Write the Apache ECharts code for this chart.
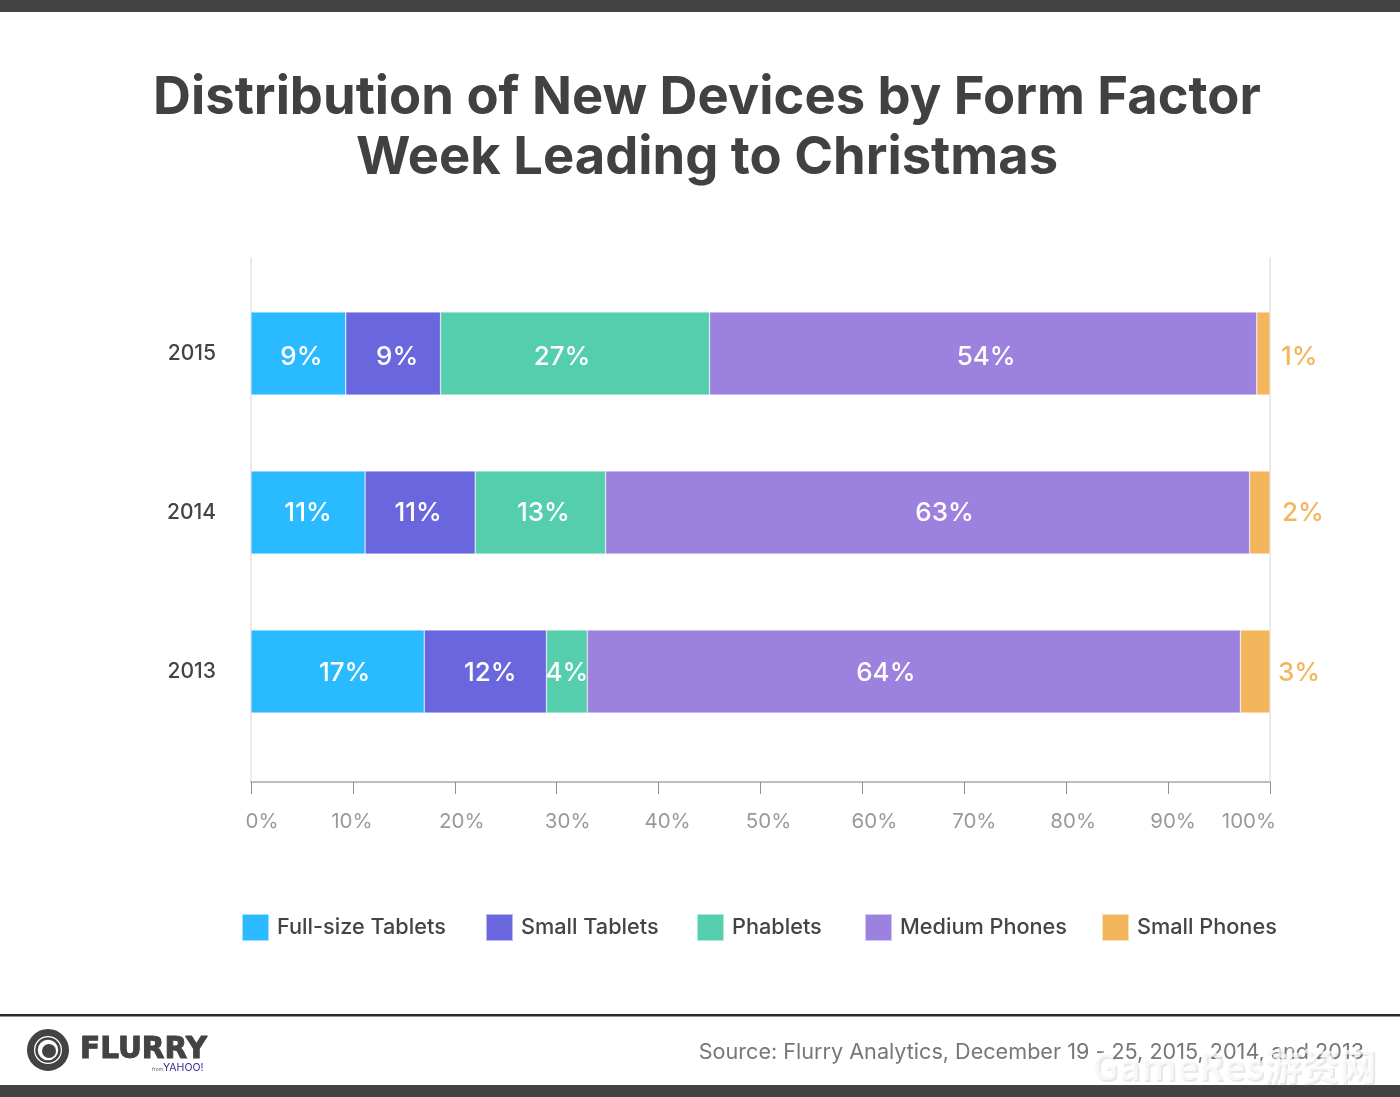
<!DOCTYPE html>
<html>
<head>
<meta charset="utf-8">
<title>Distribution of New Devices by Form Factor</title>
<script src="https://cdn.jsdelivr.net/npm/echarts@6/dist/echarts.min.js"></script>
<style>
  html, body { margin: 0; padding: 0; background: #fff; }
  #chart { width: 1400px; height: 1097px; }
</style>
</head>
<body>
<div id="chart"></div>
<script>
const years = ["2015", "2014", "2013"];
const seriesNames = ["Full-size Tablets", "Small Tablets", "Phablets", "Medium Phones", "Small Phones"];

// widths as drawn (the printed labels are rounded differently)
const fullSizeTablets = [9.3, 11.2, 17.0];
const smallTablets = [9.3, 10.8, 12.0];
const phablets = [26.4, 12.8, 4.0];
const mediumPhones = [53.7, 63.2, 64.1];
const smallPhones = [1.3, 2.0, 2.9];

const fullSizeLabels = ["9%", "11%", "17%"];
const smallTabletLabels = ["9%", "11%", "12%"];
const phabletLabels = ["27%", "13%", "4%"];
const mediumLabels = ["54%", "63%", "64%"];
const smallPhoneLabels = ["1%", "2%", "3%"];

const tickLabels = ["0%", "10%", "20%", "30%", "40%", "50%", "60%", "70%", "80%", "90%", "100%"];

const FONT = "Inter";
const COLORS = ["#2abaff", "#6966de", "#55ceae", "#9c82de", "#f4b65d"];
const LEGEND_LEFT = [241, 485, 696, 864, 1101];

// the reference places its texts off-centre, so nudge them by hand
const TICK_SHIFT = [11, -1, 7, 11, 9, 8, 12, 10, 7, 5, -21];
const LABEL_SHIFT = [
  [3, 4, -13, 3, 0],
  [0, -2, 3, 17, 1],
  [7, 5, 0, -28, -3]
];
const LABEL_DROP = [4, 1, 2];

const seriesValues = [fullSizeTablets, smallTablets, phablets, mediumPhones, smallPhones];
const seriesLabels = [fullSizeLabels, smallTabletLabels, phabletLabels, mediumLabels, smallPhoneLabels];

const tickRich = {};
TICK_SHIFT.forEach((shift, i) => {
  tickRich["t" + i] = {
    color: "#9a9a9a",
    fontFamily: FONT,
    fontSize: 20.5,
    padding: shift >= 0 ? [0, 0, 0, shift * 2] : [0, -shift * 2, 0, 0]
  };
});

function buildSeries() {
  return seriesNames.map((name, s) => ({
    name,
    type: "bar",
    stack: "share",
    xAxisIndex: 0,
    yAxisIndex: 0,
    barWidth: 83,
    itemStyle: {
      color: COLORS[s],
      borderColor: "rgba(255,255,255,0.55)",
      borderWidth: 0.6
    },
    data: seriesValues[s].map((value, y) => ({
      value,
      label: {
        show: true,
        position: s === 4 ? "right" : "inside",
        distance: s === 4 ? 11 : 0,
        formatter: seriesLabels[s][y],
        color: s === 4 ? COLORS[4] : "#ffffff",
        fontFamily: FONT,
        fontSize: 26,
        fontWeight: 500,
        offset: [LABEL_SHIFT[y][s], LABEL_DROP[y]]
      }
    }))
  }));
}

function buildLegends() {
  return seriesNames.map((name, s) => ({
    data: [name],
    left: LEGEND_LEFT[s],
    top: 913,
    padding: 0,
    icon: "rect",
    itemWidth: 27,
    itemHeight: 27,
    itemGap: 0,
    selectedMode: false,
    textStyle: {
      color: "#444444",
      fontFamily: FONT,
      fontSize: 21.7,
      fontWeight: 500,
      padding: [0, 0, 0, 3]
    }
  }));
}

function buildFooter() {
  const dark = "#434343";
  const watermark = "GameRes游资网";
  return [
    { type: "rect", shape: { x: 0, y: 0, width: 1400, height: 12 }, style: { fill: dark } },
    { type: "rect", shape: { x: 0, y: 1085, width: 1400, height: 12 }, style: { fill: dark } },
    { type: "rect", shape: { x: 0, y: 1014, width: 1400, height: 2.5 }, style: { fill: "#2b2b2b" } },
    { type: "circle", shape: { cx: 48, cy: 1050, r: 17.5 }, style: { fill: "none", stroke: dark, lineWidth: 7 } },
    { type: "circle", shape: { cx: 48, cy: 1050, r: 11.5 }, style: { fill: "none", stroke: dark, lineWidth: 2.5 } },
    { type: "circle", shape: { cx: 49, cy: 1051, r: 7 }, style: { fill: dark } },
    {
      type: "text",
      style: {
        x: 80, y: 1050, text: "FLURRY", fill: dark, stroke: dark, lineWidth: 1, textVerticalAlign: "middle",
        font: "bold 29.5px 'DejaVu Sans'"
      }
    },
    {
      type: "text",
      style: { x: 152, y: 1069, text: "from", fill: "#666666", textVerticalAlign: "middle", font: "5px Inter" }
    },
    {
      type: "text",
      style: { x: 163, y: 1068, text: "YAHOO!", fill: "#35308f", textVerticalAlign: "middle", font: "10.5px Inter" }
    },
    {
      type: "text",
      style: {
        x: 1364, y: 1052, text: "Source: Flurry Analytics, December 19 - 25, 2015, 2014, and 2013",
        fill: "#777777", textAlign: "right", textVerticalAlign: "middle", font: "21.6px Inter"
      }
    },
    {
      type: "text",
      style: {
        x: 1378, y: 1068, text: watermark, fill: "rgba(110,110,110,0.16)",
        textAlign: "right", textVerticalAlign: "middle", font: "bold 37.5px 'Noto Sans CJK SC'"
      }
    },
    {
      type: "text",
      style: {
        x: 1376, y: 1066, text: watermark, fill: "rgba(255,255,255,0.7)",
        textAlign: "right", textVerticalAlign: "middle", font: "bold 37.5px 'Noto Sans CJK SC'"
      }
    }
  ];
}

const chart = echarts.init(document.getElementById("chart"));

chart.setOption({
  animation: false,
  backgroundColor: "#ffffff",
  title: {
    text: "Distribution of New Devices by Form Factor\nWeek Leading to Christmas",
    left: 702,
    top: 63,
    textAlign: "center",
    textStyle: {
      color: "#414141",
      fontFamily: FONT,
      fontSize: 52.5,
      fontWeight: 700,
      lineHeight: 60
    }
  },
  legend: buildLegends(),
  grid: [
    { left: 251, width: 1019, top: 274, height: 477 },  // bars
    { left: 251, width: 1019, top: 258, height: 524 }   // frame and ticks
  ],
  xAxis: [
    { type: "value", gridIndex: 0, min: 0, max: 100, show: false },
    {
      type: "value",
      gridIndex: 1,
      min: 0,
      max: 100,
      interval: 10,
      axisLine: { show: true, lineStyle: { color: "#a8a8a8", width: 1.5 } },
      axisTick: { show: true, length: 12, lineStyle: { color: "#8f8f8f", width: 1 } },
      splitLine: { show: false },
      axisLabel: {
        margin: 29,
        formatter: (value) => {
          const i = Math.round(value / 10);
          return "{t" + i + "|" + tickLabels[i] + "}";
        },
        rich: tickRich
      }
    }
  ],
  yAxis: [
    {
      type: "category",
      gridIndex: 0,
      inverse: true,
      data: years,
      axisLine: { show: false },
      axisTick: { show: false },
      axisLabel: { margin: 35, color: "#444444", fontFamily: FONT, fontSize: 21, fontWeight: 500 }
    },
    {
      type: "value",
      gridIndex: 1,
      position: "left",
      min: 0,
      max: 1,
      axisLine: { show: true, onZero: false, lineStyle: { color: "#e3e3e3", width: 1.5 } },
      axisTick: { show: false },
      axisLabel: { show: false },
      splitLine: { show: false }
    },
    {
      type: "value",
      gridIndex: 1,
      position: "right",
      min: 0,
      max: 1,
      axisLine: { show: true, onZero: false, lineStyle: { color: "#e3e3e3", width: 1.5 } },
      axisTick: { show: false },
      axisLabel: { show: false },
      splitLine: { show: false }
    }
  ],
  series: buildSeries(),
  graphic: buildFooter()
});
</script>
</body>
</html>
